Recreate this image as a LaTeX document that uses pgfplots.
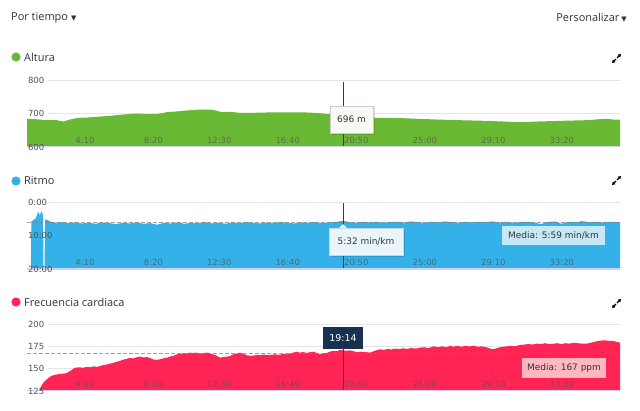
\documentclass[border=0pt]{standalone}
\usepackage{pgfplots}
\pgfplotsset{compat=1.18}
\usepackage{fontspec}
\setmainfont{Open Sans}
\newfontfamily\dejavu{DejaVu Sans}
\usetikzlibrary{arrows.meta}

\definecolor{altgreen}{RGB}{106,185,52}
\definecolor{paceblue}{RGB}{53,177,234}
\definecolor{hrred}{RGB}{255,36,84}
\definecolor{hdr}{RGB}{51,51,51}
\definecolor{tickgray}{RGB}{80,80,80}
\definecolor{gridgray}{RGB}{228,228,228}
\definecolor{lav}{RGB}{205,210,238}
\definecolor{crossc}{RGB}{60,60,60}
\definecolor{navy}{RGB}{22,50,78}
\definecolor{mediablue}{RGB}{198,231,245}
\definecolor{mediapink}{RGB}{255,184,194}
\definecolor{tipgreen}{RGB}{246,250,242}
\definecolor{tipblue}{RGB}{234,245,251}

\pgfplotsset{
  panel/.style={
    axis on top=true,
    anchor=north west,
    scale only axis, width=593bp, height=67bp,
    xmin=0, xmax=2164,
    axis line style={draw=none},
    major tick length=0pt,
    xtick={250,500,750,1000,1250,1500,1750,2000},
    xticklabels={4:10,8:20,12:30,16:40,20:50,25:00,29:10,33:20},
    tick label style={font=\dejavu\fontsize{8.5}{10}\selectfont, text=tickgray},
    xticklabel style={anchor=south east, xshift=2.5bp, yshift=0bp, text opacity=0.7},
    yticklabel style={anchor=west, xshift=-2.5bp},
    /pgf/number format/assume math mode=true,
  },
}
\tikzset{
  gridline/.style={draw=gridgray, line width=0.9bp},
  baseln/.style={draw=lav, line width=1.3bp},
  avgline/.style={draw=gray, opacity=0.75, line width=0.8bp, dash pattern=on 3.5bp off 2.5bp},
}

\begin{document}
\begin{tikzpicture}
\path[use as bounding box] (0,0) rectangle (640bp,411bp);

% ---------- header ----------
\node[anchor=west, inner sep=0, text=hdr, font=\fontsize{11}{13}\selectfont] at (11bp,393bp)
  {Por tiempo\hspace{3bp}{\dejavu\fontsize{7}{8}\selectfont ▼}};
\node[anchor=east, inner sep=0, text=hdr, font=\fontsize{11}{13}\selectfont] at (627bp,393bp)
  {Personalizar\hspace{2bp}{\dejavu\fontsize{7}{8}\selectfont ▼}};

% ---------- section titles ----------
\fill[altgreen] (16bp,354bp) circle (4.6bp);
\node[anchor=west, inner sep=0, text=hdr, font=\fontsize{11}{13}\selectfont] at (24bp,354bp) {Altura};
\fill[paceblue] (16bp,230bp) circle (4.6bp);
\node[anchor=west, inner sep=0, text=hdr, font=\fontsize{11}{13}\selectfont] at (24bp,230bp) {Ritmo};
\fill[hrred] (16bp,109bp) circle (4.6bp);
\node[anchor=west, inner sep=0, text=hdr, font=\fontsize{11}{13}\selectfont] at (24bp,109bp) {Frecuencia cardiaca};

% expand icons
\foreach \yy in {353,231,108}{
  \draw[line width=1.1bp, -{Triangle[length=3bp,width=3.5bp]}] (617bp,\yy bp) -- ++(4bp,4bp);
  \draw[line width=1.1bp, -{Triangle[length=3bp,width=3.5bp]}] (616bp,\yy bp) ++(0bp,-1bp) -- ++(-4bp,-4bp);
}

% ---------- Altura ----------
\begin{axis}[panel, at={(27bp,331bp)}, ymin=600, ymax=800, ytick={600,700,800}]
\draw[gridline] (axis cs:77,800) -- (axis cs:2164,800);
\draw[gridline] (axis cs:77,700) -- (axis cs:2164,700);
\addplot[fill=altgreen, draw=none] coordinates {
(0,600) (0,684) (30,683) (72,680) (108,680) (132,676) (157,682) (186,687) (220,688)
(254,690) (300,693) (339,696) (370,698) (400,700) (437,698) (473,698) (510,704)
(545,706) (583,709) (615,711) (643,712) (679,711) (711,704) (741,705) (777,702)
(825,702) (875,703) (948,703) (1021,703) (1069,701) (1099,698) (1153,696)
(1215,691) (1276,687) (1372,686) (1430,684) (1495,682) (1580,680) (1678,678)
(1740,676) (1799,674) (1860,676) (1945,678) (2043,680) (2090,683) (2116,684)
(2139,682) (2164,682) (2164,600)};
\addplot[crossc, line width=0.9bp] coordinates {(1153,795) (1153,600)};
\draw[baseln] (axis cs:0,600) -- (axis cs:2164,600);
\end{axis}

% ---------- Ritmo ----------
\begin{axis}[panel, at={(27bp,209bp)}, ymin=0, ymax=20, y dir=reverse,
  ytick={0,10,20}, yticklabels={0:00,10:00,20:00}]
\draw[gridline] (axis cs:77,0) -- (axis cs:2164,0);
\draw[gridline] (axis cs:77,10) -- (axis cs:2164,10);
\addplot[fill=paceblue, draw=none] coordinates {
(0,20) (14,20) (16,5.8) (25,5.3) (32,4.8) (37,3.8) (41,2.9) (45,3.6) (47,4.1)
(50,3.2) (54,2.7) (57,3.5) (59,5.5) (60,20) (64,20) (66,5.2) (75,5.4) (85,5.8)
(100,6.2) (125,6.0) (150,6.3) (175,6.1) (200,6.4) (225,6.2) (250,6.5) (275,6.1)
(300,6.3) (325,6.6) (350,6.2) (375,6.4) (400,6.1) (425,6.5) (450,6.3) (475,6.8)
(500,6.2) (525,6.4) (550,6.1) (575,6.5) (600,6.2) (625,6.3) (650,6.0) (675,6.4)
(700,6.2) (725,6.5) (750,6.1) (775,6.3) (800,6.0) (825,6.2) (850,6.4) (875,6.1)
(900,6.3) (925,6.0) (950,6.2) (975,6.4) (1000,6.1) (1025,6.2) (1050,6.0) (1075,6.3)
(1100,6.1) (1125,6.0) (1153,5.6) (1175,6.0) (1200,6.2) (1225,5.9) (1250,6.1)
(1275,5.9) (1300,6.2) (1325,6.0) (1350,5.9) (1375,6.1) (1400,5.8) (1425,6.0)
(1450,6.2) (1475,5.9) (1500,6.1) (1525,5.8) (1550,6.0) (1575,6.2) (1600,5.9)
(1625,6.1) (1650,5.9) (1675,6.0) (1700,5.8) (1725,6.1) (1750,5.9) (1775,6.2)
(1800,6.0) (1825,5.9) (1850,6.1) (1875,6.6) (1900,6.0) (1925,5.8) (1950,6.5)
(1975,5.9) (2000,6.1) (2025,5.7) (2050,6.0) (2075,5.9) (2100,6.1) (2125,5.9)
(2150,6.0) (2164,6.0) (2164,20)};
\addplot[avgline] coordinates {(0,5.983) (2164,5.983)};
\addplot[crossc, line width=0.9bp] coordinates {(1153,0.2) (1153,20)};
\draw[baseln] (axis cs:0,20) -- (axis cs:2164,20);
\end{axis}

% ---------- Frecuencia cardiaca ----------
\begin{axis}[panel, at={(27bp,87bp)}, ymin=125, ymax=200, ytick={125,150,175,200}]
\draw[gridline] (axis cs:77,200) -- (axis cs:2164,200);
\draw[gridline] (axis cs:77,175) -- (axis cs:2164,175);
\draw[gridline] (axis cs:77,150) -- (axis cs:2164,150);
\addplot[fill=hrred, draw=none] coordinates {
(44,125) (47,127) (53,131) (59,134) (65,136) (72,138) (80,140) (90,142) (100,143)
(110,143.5) (120,144) (132,144.5) (145,145) (155,147) (163,148.5) (175,151)
(190,151.5) (205,151) (218,152) (230,151.5) (242,152.5) (255,152) (268,153)
(278,154) (290,154.5) (300,155.5) (309,156) (320,157) (330,158) (339,158.6)
(350,160) (364,161) (375,162) (388,161.5) (400,162.7) (412,163.5) (425,162.5)
(437,163) (448,162) (460,160.5) (473,159.7) (485,160.5) (497,161.5) (510,162.3)
(522,163.5) (535,164.5) (546,166) (560,166.5) (572,167.5) (583,167) (595,168)
(607,167.5) (620,168) (631,167) (645,167.5) (660,168) (672,166.5) (680,166)
(692,164.5) (704,162.3) (716,163) (729,163.5) (741,164) (752,166) (765,167)
(777,168) (790,166.5) (802,165) (815,164.5) (826,164.6) (840,165.5) (852,165)
(865,166) (875,165) (890,165.5) (905,166) (920,165.5) (935,166.5) (948,166)
(960,167) (972,168) (984,169) (995,168) (1008,168.5) (1021,167.6) (1033,168.5)
(1045,169) (1058,167.5) (1069,166) (1082,167) (1094,167.6) (1105,169) (1118,170)
(1130,169.5) (1142,171) (1153,170.5) (1165,170) (1178,170.5) (1191,169.6)
(1205,168.5) (1220,169) (1237,168.5) (1252,168) (1265,169.5) (1275,170.5)
(1288,171.7) (1300,171) (1315,172) (1330,171.5) (1345,172.5) (1360,172)
(1373,172.8) (1387,172) (1400,173) (1420,172.5) (1434,173.5) (1450,174)
(1465,173) (1483,175) (1500,174) (1515,175) (1530,174) (1545,175.5) (1556,174.6)
(1570,175.5) (1585,174.5) (1600,175.5) (1615,174.8) (1629,175.7) (1645,174.5)
(1660,175) (1678,173.8) (1690,172.5) (1702,171.7) (1715,173) (1728,174)
(1739,174.6) (1752,175) (1765,175.5) (1780,175) (1799,176.5) (1815,177)
(1830,177.5) (1845,177) (1860,178) (1875,177.5) (1890,178.5) (1905,177.5)
(1921,177.9) (1935,178.5) (1950,177.5) (1965,178.5) (1980,178) (1994,179)
(2010,178.5) (2025,178) (2043,178) (2058,179) (2070,180) (2085,181) (2103,181.7)
(2115,181.5) (2128,181) (2140,181) (2152,180) (2164,179) (2164,125)};
\addplot[avgline] coordinates {(0,167) (2164,167)};
\addplot[crossc, line width=0.9bp] coordinates {(1153,190) (1153,125)};
\draw[baseln] (axis cs:0,125) -- (axis cs:2164,125);
\end{axis}

% ---------- tooltips ----------
% 696 m
\fill[black, opacity=0.12] (331.5bp,276bp) rectangle (375bp,304bp);
\node[draw={rgb,255:red,205;green,205;blue,205}, fill=tipgreen, minimum width=43bp, minimum height=27bp,
  inner sep=0, text=hdr, font=\dejavu\fontsize{9}{10}\selectfont] at (351.5bp,291.5bp) {696 m};
% 5:32 min/km
\fill[black, opacity=0.12] (330.5bp,154bp) rectangle (405bp,181bp);
\node[draw={rgb,255:red,200;green,215;blue,225}, fill=tipblue, minimum width=74bp, minimum height=27bp,
  inner sep=0, text=hdr, font=\dejavu\fontsize{9}{10}\selectfont] at (366bp,169.5bp) {5:32 min/km};
\fill[tipblue] (339bp,182.8bp) -- (343bp,187bp) -- (347bp,182.8bp) -- cycle;
% Media 5:59
\node[fill=mediablue, minimum width=103bp, minimum height=19bp, inner sep=0, text=hdr,
  font=\dejavu\fontsize{9}{10}\selectfont] at (553.5bp,175.5bp) {Media: 5:59 min/km};
% 19:14
\node[fill=navy, minimum width=40bp, minimum height=22bp, inner sep=0, text=white,
  font=\dejavu\fontsize{9.5}{11}\selectfont] at (343bp,73bp) {19:14};
% Media 167
\node[fill=mediapink, minimum width=84bp, minimum height=20bp, inner sep=0, text=hdr,
  font=\dejavu\fontsize{9}{10}\selectfont] at (564bp,43bp) {Media: 167 ppm};
\end{tikzpicture}
\end{document}
